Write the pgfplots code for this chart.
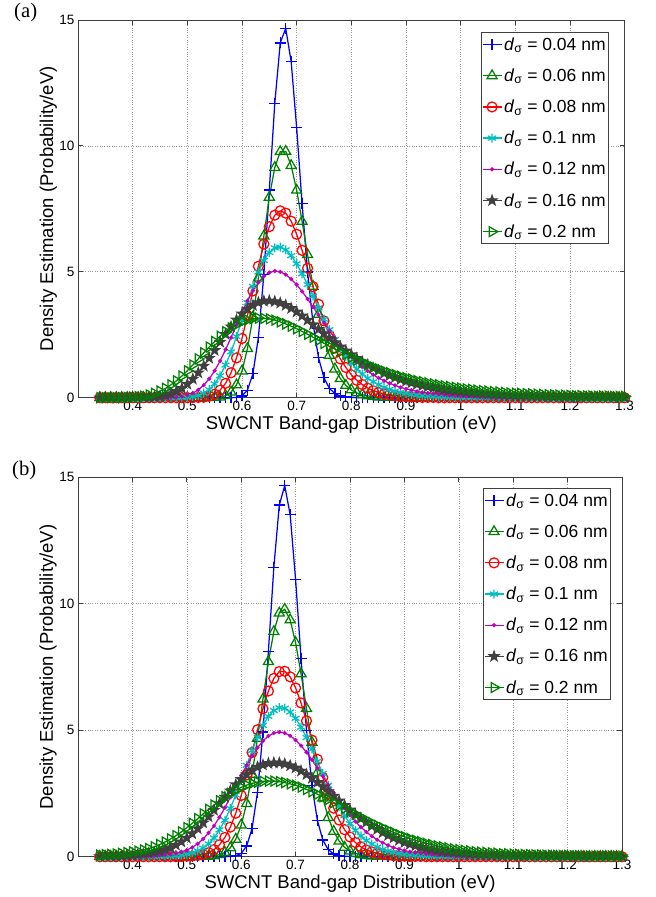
\documentclass[border=0pt]{standalone}
\usepackage{pgfplots}
\pgfplotsset{compat=1.18}
\usepackage{pgfplotstable}
\usepackage{fontspec}
\setmainfont{Liberation Sans}
\newfontfamily\timesfont{Liberation Serif}

\definecolor{mblue}{rgb}{0,0,1}
\definecolor{mgreen}{rgb}{0,0.5,0}
\definecolor{mred}{rgb}{1,0,0}
\definecolor{mcyan}{rgb}{0,0.75,0.75}
\definecolor{mmag}{rgb}{0.75,0,0.75}
\definecolor{mgray}{rgb}{0.25,0.25,0.25}

\pgfdeclareplotmark{pentagram}{%
 \pgfpathmoveto{\pgfpointpolar{90}{\pgfplotmarksize}}%
 \pgfpathlineto{\pgfpointpolar{126}{0.4*\pgfplotmarksize}}%
 \pgfpathlineto{\pgfpointpolar{162}{\pgfplotmarksize}}%
 \pgfpathlineto{\pgfpointpolar{198}{0.4*\pgfplotmarksize}}%
 \pgfpathlineto{\pgfpointpolar{234}{\pgfplotmarksize}}%
 \pgfpathlineto{\pgfpointpolar{270}{0.4*\pgfplotmarksize}}%
 \pgfpathlineto{\pgfpointpolar{306}{\pgfplotmarksize}}%
 \pgfpathlineto{\pgfpointpolar{342}{0.4*\pgfplotmarksize}}%
 \pgfpathlineto{\pgfpointpolar{18}{\pgfplotmarksize}}%
 \pgfpathlineto{\pgfpointpolar{54}{0.4*\pgfplotmarksize}}%
 \pgfpathclose\pgfusepathqfillstroke}

\pgfplotstableread{
x a b c d e f g
0.34 0 0 0 0 0 0 0
0.35 0 0 0 0 0 0 0
0.36 0 0 0 0 0 0 0
0.37 0 0 0 0 0 0 0
0.38 0 0 0 0 0 0 0
0.39 0 0 0 0 0 0 0.01
0.40 0 0 0 0 0 0 0.02
0.41 0 0 0 0 0 0 0.04
0.42 0 0 0 0 0 0.01 0.06
0.43 0 0 0 0 0 0.01 0.11
0.44 0 0 0 0 0 0.03 0.17
0.45 0 0 0 0 0 0.05 0.26
0.46 0 0 0 0 0 0.09 0.37
0.47 0 0 0 0 0.01 0.16 0.51
0.48 0 0 0 0 0.02 0.25 0.67
0.49 0 0 0 0.01 0.05 0.37 0.86
0.50 0 0 0 0.02 0.10 0.54 1.07
0.51 0 0 0 0.04 0.18 0.74 1.30
0.52 0 0 0.01 0.09 0.31 0.99 1.54
0.53 0 0 0.02 0.18 0.50 1.26 1.78
0.54 0 0 0.06 0.32 0.75 1.57 2.01
0.55 0 0.01 0.14 0.55 1.07 1.88 2.23
0.56 0 0.02 0.30 0.87 1.46 2.21 2.44
0.57 0 0.08 0.57 1.30 1.91 2.52 2.62
0.58 0 0.22 0.99 1.82 2.39 2.82 2.78
0.59 0.01 0.51 1.58 2.43 2.89 3.09 2.91
0.60 0.07 1.06 2.35 3.10 3.39 3.33 3.02
0.61 0.30 1.95 3.26 3.77 3.85 3.52 3.09
0.62 0.95 3.20 4.24 4.42 4.25 3.67 3.14
0.63 2.39 4.75 5.22 4.99 4.58 3.78 3.16
0.64 4.89 6.42 6.10 5.45 4.82 3.84 3.15
0.65 8.25 7.96 6.79 5.77 4.97 3.85 3.13
0.66 11.69 9.14 7.25 5.95 5.03 3.82 3.08
0.67 14.09 9.77 7.42 5.98 5.00 3.76 3.01
0.68 14.67 9.78 7.33 5.87 4.89 3.67 2.93
0.69 13.34 9.22 7.01 5.64 4.71 3.55 2.84
0.70 10.73 8.24 6.49 5.32 4.49 3.41 2.74
0.71 7.70 7.00 5.85 4.92 4.22 3.25 2.63
0.72 4.99 5.68 5.14 4.49 3.92 3.08 2.52
0.73 2.94 4.42 4.41 4.03 3.60 2.90 2.40
0.74 1.59 3.31 3.71 3.57 3.29 2.72 2.28
0.75 0.79 2.40 3.05 3.12 2.97 2.54 2.16
0.76 0.37 1.68 2.47 2.70 2.66 2.36 2.04
0.77 0.16 1.14 1.97 2.31 2.37 2.19 1.93
0.78 0.07 0.76 1.54 1.96 2.10 2.02 1.82
0.79 0.03 0.49 1.20 1.65 1.85 1.86 1.71
0.80 0.01 0.31 0.91 1.38 1.62 1.71 1.60
0.81 0 0.19 0.69 1.14 1.41 1.56 1.50
0.82 0 0.12 0.52 0.94 1.22 1.43 1.40
0.83 0 0.07 0.38 0.77 1.06 1.30 1.31
0.84 0 0.04 0.28 0.63 0.91 1.18 1.22
0.85 0 0.02 0.21 0.51 0.78 1.08 1.14
0.86 0 0.01 0.15 0.41 0.67 0.97 1.06
0.87 0 0.01 0.11 0.33 0.57 0.88 0.99
0.88 0 0 0.08 0.26 0.49 0.80 0.92
0.89 0 0 0.06 0.21 0.41 0.72 0.85
0.90 0 0 0.04 0.17 0.35 0.65 0.79
0.91 0 0 0.03 0.13 0.30 0.59 0.74
0.92 0 0 0.02 0.11 0.25 0.53 0.68
0.93 0 0 0.01 0.08 0.21 0.48 0.64
0.94 0 0 0.01 0.07 0.18 0.43 0.59
0.95 0 0 0.01 0.05 0.15 0.39 0.55
0.96 0 0 0 0.04 0.13 0.35 0.51
0.97 0 0 0 0.03 0.11 0.31 0.47
0.98 0 0 0 0.03 0.09 0.28 0.44
0.99 0 0 0 0.02 0.08 0.26 0.41
1.00 0 0 0 0.02 0.06 0.23 0.38
1.01 0 0 0 0.01 0.05 0.21 0.35
1.02 0 0 0 0.01 0.05 0.19 0.33
1.03 0 0 0 0.01 0.04 0.17 0.30
1.04 0 0 0 0.01 0.03 0.15 0.28
1.05 0 0 0 0 0.03 0.14 0.26
1.06 0 0 0 0 0.02 0.12 0.24
1.07 0 0 0 0 0.02 0.11 0.23
1.08 0 0 0 0 0.02 0.10 0.21
1.09 0 0 0 0 0.01 0.09 0.19
1.10 0 0 0 0 0.01 0.08 0.18
1.11 0 0 0 0 0.01 0.07 0.17
1.12 0 0 0 0 0.01 0.07 0.16
1.13 0 0 0 0 0.01 0.06 0.15
1.14 0 0 0 0 0.01 0.05 0.14
1.15 0 0 0 0 0.01 0.05 0.13
1.16 0 0 0 0 0 0.04 0.12
1.17 0 0 0 0 0 0.04 0.11
1.18 0 0 0 0 0 0.04 0.10
1.19 0 0 0 0 0 0.03 0.10
1.20 0 0 0 0 0 0.03 0.09
1.21 0 0 0 0 0 0.03 0.08
1.22 0 0 0 0 0 0.02 0.08
1.23 0 0 0 0 0 0.02 0.07
1.24 0 0 0 0 0 0.02 0.07
1.25 0 0 0 0 0 0.02 0.06
1.26 0 0 0 0 0 0.02 0.06
1.27 0 0 0 0 0 0.02 0.06
1.28 0 0 0 0 0 0.01 0.05
1.29 0 0 0 0 0 0.01 0.05
1.30 0 0 0 0 0 0.01 0.05
}\tabA

\pgfplotstableread{
x a b c d e f g
0.34 0 0 0 0 0 0.01 0.06
0.35 0 0 0 0 0 0.02 0.08
0.36 0 0 0 0 0 0.02 0.09
0.37 0 0 0 0 0 0.03 0.11
0.38 0 0 0 0 0 0.04 0.13
0.39 0 0 0 0 0 0.05 0.16
0.40 0 0 0 0 0.01 0.07 0.19
0.41 0 0 0 0 0.01 0.09 0.22
0.42 0 0 0 0 0.02 0.11 0.27
0.43 0 0 0 0 0.02 0.14 0.32
0.44 0 0 0 0.01 0.03 0.17 0.39
0.45 0 0 0 0.01 0.05 0.22 0.48
0.46 0 0 0 0.02 0.07 0.28 0.58
0.47 0 0 0 0.03 0.09 0.36 0.70
0.48 0 0 0 0.04 0.13 0.46 0.83
0.49 0 0 0.01 0.06 0.19 0.59 0.98
0.50 0 0 0.02 0.10 0.26 0.74 1.15
0.51 0 0 0.03 0.15 0.37 0.91 1.32
0.52 0 0 0.05 0.23 0.51 1.11 1.50
0.53 0 0.01 0.09 0.34 0.70 1.34 1.69
0.54 0 0.01 0.16 0.51 0.94 1.58 1.87
0.55 0 0.03 0.28 0.74 1.22 1.84 2.04
0.56 0 0.08 0.47 1.06 1.56 2.10 2.21
0.57 0 0.17 0.76 1.44 1.94 2.36 2.37
0.58 0.01 0.35 1.17 1.91 2.35 2.61 2.51
0.59 0.04 0.69 1.72 2.44 2.78 2.85 2.63
0.60 0.13 1.25 2.42 3.02 3.21 3.06 2.74
0.61 0.42 2.10 3.23 3.61 3.61 3.25 2.83
0.62 1.12 3.26 4.12 4.20 3.99 3.41 2.90
0.63 2.55 4.68 5.02 4.73 4.31 3.54 2.95
0.64 4.93 6.23 5.85 5.19 4.58 3.63 2.98
0.65 8.12 7.71 6.55 5.55 4.77 3.69 2.99
0.66 11.44 8.90 7.05 5.78 4.89 3.71 2.99
0.67 13.90 9.63 7.32 5.89 4.93 3.71 2.97
0.68 14.67 9.78 7.33 5.87 4.89 3.67 2.93
0.69 13.52 9.36 7.11 5.72 4.78 3.60 2.88
0.70 10.96 8.46 6.67 5.47 4.61 3.51 2.82
0.71 7.84 7.23 6.08 5.12 4.39 3.39 2.75
0.72 4.98 5.86 5.37 4.71 4.13 3.25 2.66
0.73 2.82 4.52 4.61 4.25 3.83 3.10 2.57
0.74 1.44 3.32 3.85 3.77 3.51 2.94 2.47
0.75 0.66 2.32 3.13 3.29 3.18 2.76 2.37
0.76 0.28 1.55 2.48 2.82 2.84 2.58 2.26
0.77 0.11 1.00 1.92 2.38 2.52 2.40 2.14
0.78 0.04 0.62 1.45 1.98 2.20 2.21 2.03
0.79 0.02 0.37 1.07 1.62 1.91 2.03 1.91
0.80 0.01 0.22 0.78 1.31 1.64 1.85 1.79
0.81 0 0.13 0.56 1.04 1.39 1.68 1.68
0.82 0 0.07 0.39 0.82 1.17 1.51 1.56
0.83 0 0.04 0.27 0.64 0.98 1.36 1.45
0.84 0 0.02 0.19 0.50 0.81 1.21 1.34
0.85 0 0.01 0.13 0.38 0.67 1.08 1.24
0.86 0 0.01 0.09 0.29 0.55 0.95 1.14
0.87 0 0 0.06 0.22 0.45 0.84 1.05
0.88 0 0 0.04 0.17 0.36 0.74 0.96
0.89 0 0 0.03 0.13 0.30 0.65 0.87
0.90 0 0 0.02 0.10 0.24 0.56 0.79
0.91 0 0 0.01 0.08 0.19 0.49 0.72
0.92 0 0 0.01 0.06 0.16 0.43 0.65
0.93 0 0 0.01 0.05 0.13 0.37 0.59
0.94 0 0 0 0.04 0.11 0.32 0.53
0.95 0 0 0 0.03 0.09 0.28 0.48
0.96 0 0 0 0.02 0.07 0.24 0.43
0.97 0 0 0 0.02 0.06 0.21 0.39
0.98 0 0 0 0.01 0.05 0.18 0.35
0.99 0 0 0 0.01 0.04 0.16 0.31
1.00 0 0 0 0.01 0.03 0.14 0.28
1.01 0 0 0 0.01 0.03 0.12 0.25
1.02 0 0 0 0.01 0.02 0.11 0.23
1.03 0 0 0 0 0.02 0.09 0.20
1.04 0 0 0 0 0.02 0.08 0.18
1.05 0 0 0 0 0.01 0.07 0.17
1.06 0 0 0 0 0.01 0.07 0.15
1.07 0 0 0 0 0.01 0.06 0.14
1.08 0 0 0 0 0.01 0.05 0.12
1.09 0 0 0 0 0.01 0.05 0.11
1.10 0 0 0 0 0.01 0.04 0.10
1.11 0 0 0 0 0 0.04 0.09
1.12 0 0 0 0 0 0.03 0.09
1.13 0 0 0 0 0 0.03 0.08
1.14 0 0 0 0 0 0.03 0.07
1.15 0 0 0 0 0 0.02 0.07
1.16 0 0 0 0 0 0.02 0.06
1.17 0 0 0 0 0 0.02 0.06
1.18 0 0 0 0 0 0.02 0.05
1.19 0 0 0 0 0 0.02 0.05
1.20 0 0 0 0 0 0.02 0.05
1.21 0 0 0 0 0 0.01 0.04
1.22 0 0 0 0 0 0.01 0.04
1.23 0 0 0 0 0 0.01 0.04
1.24 0 0 0 0 0 0.01 0.03
1.25 0 0 0 0 0 0.01 0.03
1.26 0 0 0 0 0 0.01 0.03
1.27 0 0 0 0 0 0.01 0.03
1.28 0 0 0 0 0 0.01 0.03
1.29 0 0 0 0 0 0.01 0.02
1.30 0 0 0 0 0 0.01 0.02
}\tabB

\pgfplotsset{
 panel/.style={
  scale only axis, clip=false,
  xmin=0.3, xmax=1.3, ymin=0, ymax=15,
  xtick={0.4,0.5,0.6,0.7,0.8,0.9,1,1.1,1.2,1.3},
  ytick={0,5,10,15},
  tick align=inside, tick pos=both,
  major tick length=5pt,
  grid=major, grid style={dotted, line width=0.6pt, black!40},
  axis line style={line width=0.8pt, black!75},
  every tick/.style={black!75, line width=0.8pt},
  ticklabel style={font=\fontsize{13.5}{14}\selectfont},
  /pgf/number format/assume math mode=true,
  xlabel={SWCNT Band-gap Distribution (eV)},
  ylabel={Density Estimation (Probability/eV)},
  label style={font=\fontsize{18.5}{20}\selectfont},
  xlabel style={at={(axis description cs:0.5,0)}, anchor=base, yshift=-32pt},
  every axis plot/.append style={line width=1.25pt},
  legend cell align=left,
  legend image code/.code={\draw[mark repeat=2,mark phase=2] plot coordinates {(0pt,0pt) (9.5pt,0pt) (19pt,0pt)};},
  legend style={anchor=north east, font=\fontsize{17.5}{18}\selectfont, draw=black!75, line width=0.8pt, inner xsep=1pt, inner ysep=3pt, row sep=13pt, fill=white},
 },
 sA/.style={color=mblue, mark=+, mark size=5.5pt},
 sB/.style={color=mgreen, mark=triangle, mark size=5.8pt},
 sC/.style={color=mred, mark=o, mark size=5pt},
 sD/.style={color=mcyan, mark=asterisk, mark size=4.5pt},
 sE/.style={color=mmag, mark=*, mark size=1.4pt},
 sF/.style={color=mgray, mark=pentagram, mark size=5pt, mark options={fill=mgray}},
 sG/.style={color=mgreen, mark=triangle, mark size=5.8pt, mark options={rotate=-90, solid}},
}

\newcommand\plotall[1]{%
 \addplot[sA] table[x=x,y=a]{#1};
 \addlegendentry{\textit{d}\textsubscript{σ} = 0.04 nm}
 \addplot[sB] table[x=x,y=b]{#1};
 \addlegendentry{\textit{d}\textsubscript{σ} = 0.06 nm}
 \addplot[sC] table[x=x,y=c]{#1};
 \addlegendentry{\textit{d}\textsubscript{σ} = 0.08 nm}
 \addplot[sD] table[x=x,y=d]{#1};
 \addlegendentry{\textit{d}\textsubscript{σ} = 0.1 nm}
 \addplot[sE] table[x=x,y=e]{#1};
 \addlegendentry{\textit{d}\textsubscript{σ} = 0.12 nm}
 \addplot[sF] table[x=x,y=f]{#1};
 \addlegendentry{\textit{d}\textsubscript{σ} = 0.16 nm}
 \addplot[sG] table[x=x,y=g]{#1};
 \addlegendentry{\textit{d}\textsubscript{σ} = 0.2 nm}
}

\begin{document}
\begin{tikzpicture}[x=1pt,y=1pt]
\useasboundingbox (0,0) rectangle (656,897);
\node[anchor=base west, font=\timesfont\fontsize{20.7}{22}\selectfont, inner sep=0pt] at (14,879) {(a)};
\node[anchor=base west, font=\timesfont\fontsize{20.7}{22}\selectfont, inner sep=0pt] at (12,421) {(b)};

\begin{axis}[panel, at={(78pt,499.3pt)}, anchor=south west,
  width=546.6pt, height=377.7pt,
  ylabel style={at={(axis description cs:-0.0457,0.5)}, anchor=base},
  legend style={at={(0.9715,0.968)}}]
\plotall{\tabA}
\end{axis}

\begin{axis}[panel, at={(78pt,40.3pt)}, anchor=south west,
  width=544pt, height=379.4pt,
  ylabel style={at={(axis description cs:-0.046,0.5)}, anchor=base},
  legend style={at={(0.9798,0.9718)}}]
\plotall{\tabB}
\end{axis}
\end{tikzpicture}
\end{document}
